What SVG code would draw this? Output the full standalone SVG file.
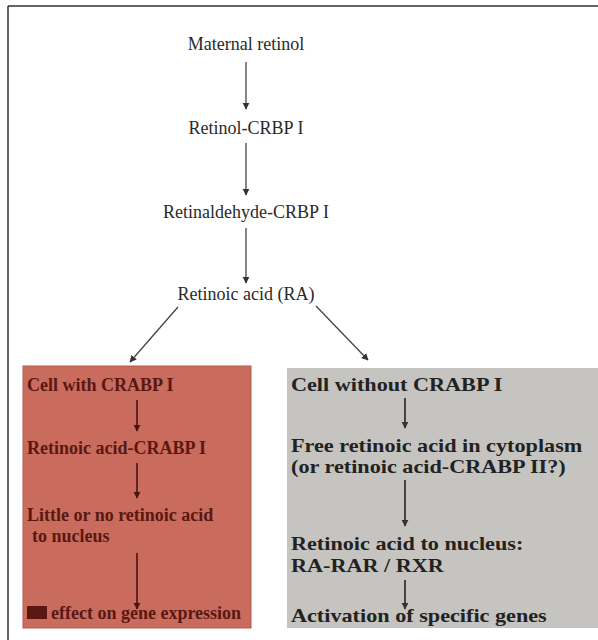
<svg xmlns="http://www.w3.org/2000/svg" width="598" height="640" viewBox="0 0 598 640">
<defs>
<marker id="ah" viewBox="0 0 10 10" refX="9" refY="5" markerWidth="7" markerHeight="8" orient="auto" markerUnits="userSpaceOnUse">
<path d="M0,0 L10,5 L0,10 z" fill="#333"/>
</marker>
<marker id="ahr" viewBox="0 0 10 10" refX="9" refY="5" markerWidth="7" markerHeight="8" orient="auto" markerUnits="userSpaceOnUse">
<path d="M0,0 L10,5 L0,10 z" fill="#4a1410"/>
</marker>
</defs>
<style>
.top{font-family:"Liberation Serif","DejaVu Serif",serif;font-size:18px;fill:#2a2a2a;text-anchor:middle}
.rt{font-family:"Liberation Serif","DejaVu Serif",serif;font-size:18px;font-weight:bold;fill:#5a1812}
.gt{font-family:"Liberation Serif","DejaVu Serif",serif;font-size:18.5px;font-weight:bold;fill:#222}
.c{stroke:#444;stroke-width:1.3;fill:none;marker-end:url(#ah)}
.cr{stroke:#4a1410;stroke-width:1.6;fill:none;marker-end:url(#ahr)}
.cg{stroke:#222;stroke-width:1.6;fill:none;marker-end:url(#ah)}
</style>
<rect width="598" height="640" fill="#fff"/>
<path d="M8,6 H598 M8,6 V640" stroke="#333" stroke-width="1.5" fill="none"/>
<g id="maternal-retinol"><text class="top" x="246" y="50">Maternal retinol</text></g>
<g id="retinol-crbp"><text class="top" x="246" y="134">Retinol-CRBP I</text></g>
<g id="retinaldehyde-crbp"><text class="top" x="246" y="218">Retinaldehyde-CRBP I</text></g>
<g id="retinoic-acid"><text class="top" x="246" y="300">Retinoic acid (RA)</text></g>
<g id="cell-with">
<rect x="23" y="366" width="228" height="262" fill="#c96b5d" stroke="#b85a4c"/>
<text class="rt" x="27" y="391">Cell with CRABP I</text>
<text class="rt" x="27" y="454">Retinoic acid-CRABP I</text>
<text class="rt" x="27" y="521">Little or no retinoic acid</text>
<text class="rt" x="32" y="542">to nucleus</text>
<rect x="27" y="606" width="20" height="13" fill="#5a1812"/>
<text class="rt" x="51" y="619">effect on gene expression</text>
<path class="cr" d="M137,400 V431"/>
<path class="cr" d="M137,463 V498"/>
<path class="cr" d="M137,553 V609"/>
</g>
<g id="cell-without">
<rect x="287" y="368" width="311" height="260" fill="#c6c4c0"/>
<g transform="translate(291,0) scale(1.2,1)">
<text class="gt" x="0" y="391">Cell without CRABP I</text>
<text class="gt" x="0" y="452">Free retinoic acid in cytoplasm</text>
<text class="gt" x="0" y="473">(or retinoic acid-CRABP II?)</text>
<text class="gt" x="0" y="550">Retinoic acid to nucleus:</text>
<text class="gt" x="0" y="572">RA-RAR / RXR</text>
<text class="gt" x="0" y="622">Activation of specific genes</text>
</g>
<path class="cg" d="M405,398 V428"/>
<path class="cg" d="M405,480 V526"/>
<path class="cg" d="M405,580 V609"/>
</g>
<g id="connectors">
<path class="c" d="M246,62 V109"/>
<path class="c" d="M246,143 V195"/>
<path class="c" d="M246,228 V283"/>
<path class="c" d="M178,307 L130,362"/>
<path class="c" d="M316,306 L368,360"/>
</g>
</svg>
